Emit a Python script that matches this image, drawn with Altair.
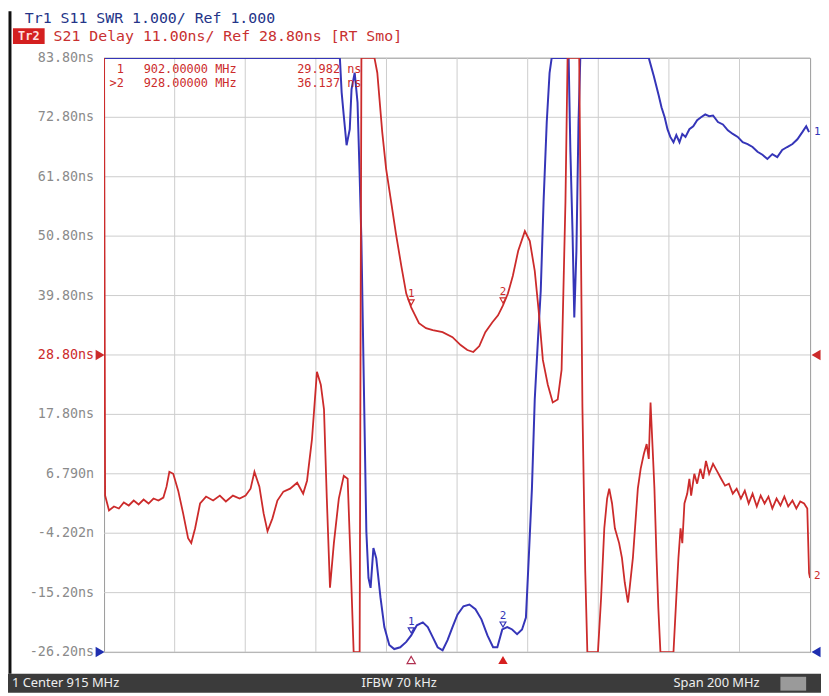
import altair as alt
import pandas as pd

# ---------------- data ----------------
freq_grid = [835, 855, 875, 895, 915, 935, 955, 975, 995]          # MHz (interior vertical grid)
delay_ticks = [83.8, 72.8, 61.8, 50.8, 39.8, 28.8, 17.8, 6.8, -4.2, -15.2, -26.2]   # ns
delay_tick_labels = ["83.80ns", "72.80ns", "61.80ns", "50.80ns", "39.80ns", "28.80ns",
                     "17.80ns", "6.790n", "-4.202n", "-15.20ns", "-26.20ns"]
ref_label = "28.80ns"

# Tr2  S21 group delay (ns)
s21_freq = [815.0, 815.3, 816.4, 817.8, 819.2, 820.6, 822.0, 823.4, 824.8, 826.2,
            827.6, 829.0, 830.4, 831.8, 832.7, 833.5, 834.6, 836.0, 837.4, 838.8,
            839.7, 840.8, 842.2, 843.9, 845.9, 847.8, 849.5, 851.5, 853.4, 855.1,
            856.5, 857.6, 859.0, 860.2, 861.3, 862.7, 864.1, 865.8, 867.7, 869.7,
            871.4, 872.5, 873.9, 875.3, 876.4, 877.3, 878.1, 879.0, 880.1, 881.5,
            882.9, 884.0, 884.8, 885.7, 887.4, 887.9, 891.6, 892.4, 893.8, 894.9,
            896.3, 897.7, 899.2, 900.6, 902.0, 904.2, 906.2, 908.1, 910.9, 913.7,
            916.0, 917.9, 919.6, 921.3, 923.0, 925.0, 926.6, 928.0, 929.4, 930.8,
            932.3, 934.2, 935.6, 937.0, 938.1, 939.3, 940.7, 942.1, 943.5, 944.6,
            945.7, 946.3,
            949.6, 950.5, 951.3, 951.9, 954.9, 955.8, 956.7, 957.5, 958.1, 958.9,
            959.7, 960.9, 961.7, 962.5, 963.4, 963.9, 964.8, 965.6, 966.2, 967.0,
            967.9, 968.7, 969.3, 969.8, 970.4, 970.9, 971.5, 972.0, 972.6, 976.3,
            977.1, 977.7, 978.3, 978.8, 979.4, 980.2, 980.8, 981.3, 982.2, 983.0,
            983.9, 984.7, 985.5, 986.4, 987.5, 988.6, 989.8, 990.9, 992.0, 993.1,
            994.2, 995.4, 996.5, 997.6, 998.7, 999.9, 1001.0, 1002.1, 1003.2, 1004.3,
            1005.5, 1006.6, 1007.7, 1008.8, 1010.0, 1011.1, 1012.2, 1013.3, 1014.2, 1014.7,
            1015.0]
s21_delay = [83.8, 2.77, 0.02, 0.75, 0.38, 1.48, 0.93, 1.85, 1.12, 2.03,
             1.30, 2.22, 1.85, 2.40, 4.42, 7.17, 6.80, 3.68, -0.53, -5.12,
             -6.03, -3.28, 1.30, 2.58, 1.85, 2.77, 1.67, 2.77, 2.22, 2.77,
             4.05, 7.17, 4.42, -0.53, -3.83, -1.45, 1.85, 3.50, 4.05, 5.15,
             3.13, 5.52, 13.22, 25.68, 23.30, 18.72, 2.22, -14.28, -6.03, 2.22,
             6.43, 5.88, -8.78, -26.2, -26.2, 83.8, 83.8, 81.05, 70.05, 63.27,
             57.22, 51.17, 45.30, 40.17, 37.60, 34.67, 33.75, 33.38, 33.02, 32.10,
             30.63, 29.72, 29.35, 30.45, 33.02, 34.85, 36.13, 37.97, 40.17, 43.47,
             48.05, 51.72, 49.88, 44.38, 37.05, 27.88, 23.30, 20.00, 20.55, 26.05,
             57.22, 83.8,
             83.8, 19.27, -11.17, -26.2, -26.2, -16.12, -3.28, 2.22, 4.05, 1.30,
             -3.28, -6.03, -8.78, -13.37, -17.03, -14.28, -8.78, -1.45, 4.05, 7.72,
             10.47, 12.30, 9.55, 20.00, 11.38, 4.05, -8.78, -17.95, -26.2, -26.2,
             -16.12, -8.78, -3.28, -6.03, 1.30, 3.13, 5.88, 2.77, 6.80, 4.97,
             7.72, 5.88, 9.18, 6.80, 8.63, 7.35, 5.88, 4.60, 4.97, 3.13,
             4.05, 2.22, 3.68, 1.30, 3.13, 0.75, 2.77, 1.30, 2.58, 0.38,
             2.22, 0.93, 2.58, 0.75, 1.85, 0.38, 1.67, 1.30, 0.38, -11.53,
             -12.5]

# Tr1  S11 SWR
s11_freq = [815.0, 881.8, 882.3, 882.9, 883.7, 884.6, 885.1, 886.0, 886.8, 887.4,
            887.9, 889.3, 889.9, 890.5, 891.3, 892.1, 893.3, 894.4, 895.8, 897.2,
            898.9, 900.6, 902.0, 903.6, 905.3, 906.7, 908.1, 909.5, 910.9, 912.3,
            913.7, 915.1, 916.8, 918.5, 920.2, 921.9, 923.6, 925.2, 926.4, 927.8,
            929.2, 930.6, 932.0, 933.4, 934.5, 935.3, 936.2, 937.0, 937.9, 938.7,
            939.5, 940.4, 941.2, 941.8, 946.6, 947.1, 947.7, 948.2, 948.8, 949.4,
            949.9, 969.3, 970.7, 972.1, 972.9, 973.8, 974.6, 975.4, 976.3, 977.1,
            978.0, 978.8, 979.7, 980.8, 981.9, 983.0, 984.1, 985.3, 986.4, 987.5,
            988.9, 990.3, 991.7, 993.1, 994.5, 995.9, 997.3, 998.7, 1000.1, 1001.5,
            1002.9, 1004.3, 1005.7, 1007.1, 1008.5, 1010.0, 1011.4, 1012.8, 1013.9, 1014.7]
s11_swr = [11.0, 11.0, 10.42, 10.03, 9.53, 9.80, 10.47, 10.75, 10.25, 9.03,
           7.92, 3.03, 2.25, 2.08, 2.75, 2.58, 1.92, 1.42, 1.12, 1.05,
           1.08, 1.17, 1.28, 1.45, 1.50, 1.42, 1.25, 1.08, 1.03, 1.20,
           1.42, 1.63, 1.77, 1.80, 1.72, 1.55, 1.28, 1.08, 1.08, 1.38,
           1.42, 1.38, 1.30, 1.38, 1.58, 2.58, 3.75, 5.25, 6.25, 7.08,
           8.58, 9.92, 10.75, 11.0, 11.0, 9.42, 8.08, 6.63, 7.75, 9.92,
           11.0, 11.0, 10.70, 10.37, 10.17, 10.0, 9.80, 9.67, 9.58, 9.70,
           9.58, 9.72, 9.67, 9.80, 9.85, 9.95, 10.0, 10.05, 10.02, 10.03,
           9.92, 9.88, 9.78, 9.72, 9.67, 9.58, 9.55, 9.50, 9.42, 9.37,
           9.30, 9.38, 9.33, 9.45, 9.50, 9.55, 9.63, 9.75, 9.85, 9.75]

marker_ids = ["1", "2"]
marker_freq = [902.0, 928.0]
marker_delay = [37.60, 37.97]
marker_swr = [1.28, 1.38]
marker_rows = ["1", ">2"]
marker_freq_text = ["902.00000  MHz", "928.00000  MHz"]
marker_val_text = ["29.982 ns", "36.137 ns"]

header1 = "Tr1 S11 SWR 1.000/ Ref 1.000"
header2 = "S21 Delay 11.00ns/ Ref 28.80ns [RT Smo]"
footer = ["1  Center 915 MHz", "IFBW 70 kHz", "Span 200 MHz"]

# ---------------- chart ----------------
W, H = 713, 600
RED = "#cc2b2b"
BLUE = "#3535b8"
GRID = "#cccccc"
MONO = "DejaVu Sans Mono"

xs = alt.Scale(domain=[815, 1015], nice=False, zero=False)
ds = alt.Scale(domain=[-26.2, 83.8], nice=False, zero=False)
ss = alt.Scale(domain=[1, 11], nice=False, zero=False)

X = lambda f: alt.X(f"{f}:Q", scale=xs, axis=None)
YD = lambda f: alt.Y(f"{f}:Q", scale=ds, axis=None)
YS = lambda f: alt.Y(f"{f}:Q", scale=ss, axis=None)

s21 = pd.DataFrame({"f": s21_freq, "v": s21_delay})
s21["i"] = range(len(s21))
s11 = pd.DataFrame({"f": s11_freq, "v": s11_swr})
s11["i"] = range(len(s11))
mk = pd.DataFrame({"id": marker_ids, "f": marker_freq, "d": marker_delay, "s": marker_swr})
one = pd.DataFrame({"a": [0]})


def txt(s, x, y, color, size, font=MONO, align="left", weight="normal"):
    return alt.Chart(pd.DataFrame({"t": [s]})).mark_text(
        align=align, baseline="middle", font=font, fontSize=size,
        color=color, fontWeight=weight).encode(
        text="t:N", x=alt.value(x), y=alt.value(y))


grid_x = alt.Chart(pd.DataFrame({"f": freq_grid})).mark_rule(color=GRID, strokeWidth=1).encode(
    x=X("f"), y=alt.value(0), y2=alt.value(H))
grid_y = alt.Chart(pd.DataFrame({"v": delay_ticks})).mark_rule(color=GRID, strokeWidth=1).encode(
    y=YD("v"), x=alt.value(0), x2=alt.value(W))

blue_line = alt.Chart(s11).mark_line(color=BLUE, strokeWidth=2, clip=True).encode(
    x=X("f"), y=YS("v"), order="i:Q")
red_line = alt.Chart(s21).mark_line(color=RED, strokeWidth=1.8, clip=True).encode(
    x=X("f"), y=YD("v"), order="i:Q")

ylabels = alt.Chart(pd.DataFrame({"v": delay_ticks, "lab": delay_tick_labels})).mark_text(
    align="right", baseline="middle", font=MONO, fontSize=13.5).encode(
    x=alt.value(-10), y=YD("v"), text="lab:N",
    color=alt.condition(alt.datum.lab == ref_label, alt.value(RED), alt.value("#8a8a8a")))

ref_red = pd.DataFrame({"v": [28.8]})
ref_blue = pd.DataFrame({"v": [1.0]})
tri_l_red = alt.Chart(ref_red).mark_point(shape="triangle-right", filled=True, size=110,
                                          color=RED, opacity=1).encode(x=alt.value(-4), y=YD("v"))
tri_l_blue = alt.Chart(ref_blue).mark_point(shape="triangle-right", filled=True, size=110,
                                            color="#1f2fb0", opacity=1).encode(x=alt.value(-4), y=YS("v"))
tri_r_red = alt.Chart(ref_red).mark_point(shape="triangle-left", filled=True, size=110,
                                          color=RED, opacity=1).encode(x=alt.value(W + 6), y=YD("v"))
tri_r_blue = alt.Chart(ref_blue).mark_point(shape="triangle-left", filled=True, size=110,
                                            color="#1f2fb0", opacity=1).encode(x=alt.value(W + 6), y=YS("v"))

# markers on traces
mk_red_tri = alt.Chart(mk).mark_point(shape="triangle-down", filled=False, size=35, color=RED,
                                      strokeWidth=1.2, yOffset=-5, opacity=1).encode(x=X("f"), y=YD("d"))
mk_red_txt = alt.Chart(mk).mark_text(color=RED, font=MONO, fontSize=11, dy=-14).encode(
    x=X("f"), y=YD("d"), text="id:N")
mk_blue_tri = alt.Chart(mk).mark_point(shape="triangle-down", filled=False, size=35, color=BLUE,
                                       strokeWidth=1.2, yOffset=-5, opacity=1).encode(x=X("f"), y=YS("s"))
mk_blue_txt = alt.Chart(mk).mark_text(color=BLUE, font=MONO, fontSize=11, dy=-14).encode(
    x=X("f"), y=YS("s"), text="id:N")

# marker position triangles under the grid
bot_active = alt.Chart(mk[mk.id == "2"]).mark_point(shape="triangle-up", filled=True, size=90,
                                                      color="#d61f1f", opacity=1).encode(
    x=X("f"), y=alt.value(H + 8))
bot_other = alt.Chart(mk[mk.id == "1"]).mark_point(shape="triangle-up", filled=False, size=70,
                                                     color="#b03050", strokeWidth=1.2, opacity=1).encode(
    x=X("f"), y=alt.value(H + 8))

# marker table (two rows)
row1 = [txt(marker_rows[0], 20, 11, RED, 12, align="right"),
        txt(marker_freq_text[0], 40, 11, RED, 12),
        txt(marker_val_text[0], 195, 11, RED, 12)]
row2 = [txt(marker_rows[1], 20, 25, RED, 12, align="right"),
        txt(marker_freq_text[1], 40, 25, RED, 12),
        txt(marker_val_text[1], 195, 25, RED, 12)]

# trace end labels
end1 = txt("1", W + 4, 75, BLUE, 11, align="left")
end2 = txt("2", W + 4, 523, RED, 11, align="left")

# header
hdr1 = txt(header1, -80, -40, "#243488", 15)
tr2_box = alt.Chart(one).mark_rect(color="#d42020").encode(
    x=alt.value(-92), x2=alt.value(-60), y=alt.value(-30), y2=alt.value(-14))
tr2_txt = txt("Tr2", -76, -22, "#ffe0e0", 12, align="center", weight="bold")
hdr2 = txt(header2, -51, -22, "#c83030", 15)

# left frame and footer
left_bar = alt.Chart(one).mark_rule(color="#111111", strokeWidth=3).encode(
    x=alt.value(-95), y=alt.value(-47), y2=alt.value(H + 22))
foot_rect = alt.Chart(one).mark_rect(color="#3b3b3b").encode(
    x=alt.value(-97), x2=alt.value(W + 11), y=alt.value(H + 22), y2=alt.value(H + 41))
foot_box = alt.Chart(one).mark_rect(color="#9a9a9a").encode(
    x=alt.value(W - 30), x2=alt.value(W - 4), y=alt.value(H + 25), y2=alt.value(H + 39))
f1 = txt(footer[0], -93, H + 31.5, "#eeeeee", 13, font="Noto Sans")
f2 = txt(footer[1], 298, H + 31.5, "#eeeeee", 13, font="Noto Sans", align="center")
f3 = txt(footer[2], 575, H + 31.5, "#eeeeee", 13, font="Noto Sans")

chart = alt.layer(
    grid_x, grid_y, blue_line, red_line,
    mk_blue_tri, mk_blue_txt, mk_red_tri, mk_red_txt, bot_other, bot_active,
    ylabels, tri_l_red, tri_l_blue, tri_r_red, tri_r_blue,
    *row1, *row2, end1, end2,
    hdr1, tr2_box, tr2_txt, hdr2, left_bar, foot_rect, foot_box, f1, f2, f3,
).resolve_scale(y="independent").properties(
    width=W, height=H,
    padding={"left": 97, "top": 47, "right": 11, "bottom": 40},
    autosize=alt.AutoSizeParams(type="none"),
    background="white",
).configure_view(stroke="#9a9a9a", strokeWidth=1)

chart.save("out.html", embed_options={"renderer": "svg", "actions": False})
